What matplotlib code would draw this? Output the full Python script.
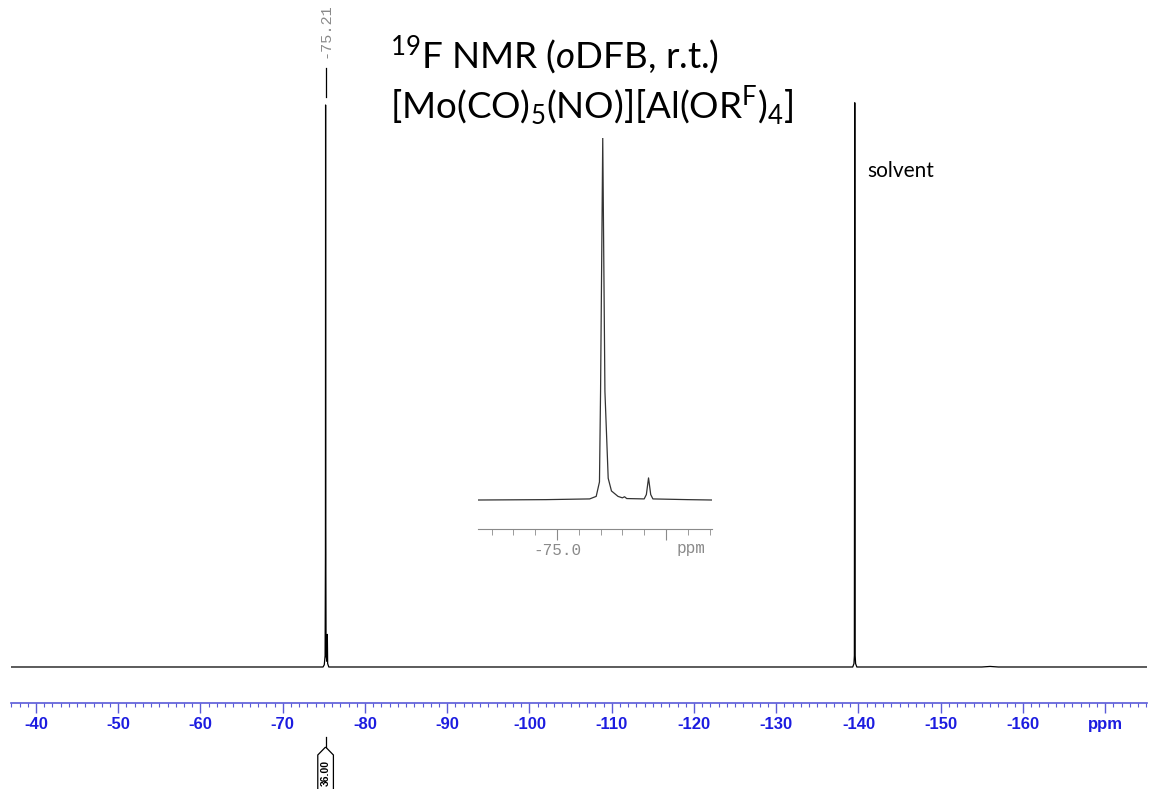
import matplotlib
matplotlib.use('Agg')
import matplotlib.pyplot as plt
from matplotlib.patches import Polygon
from matplotlib.transforms import blended_transform_factory
from matplotlib.ticker import FixedLocator, MultipleLocator

plt.rcParams['mathtext.fontset'] = 'custom'
plt.rcParams['mathtext.rm'] = 'Lato'
plt.rcParams['mathtext.it'] = 'Lato:italic'

# full spectrum outline (ppm, relative intensity)
spec_ppm = [-36.96, -74.9, -75.05, -75.15, -75.19, -75.21, -75.23, -75.27,
            -75.38, -75.42, -75.46, -75.6, -139.3, -139.45, -139.5, -139.55,
            -139.6, -139.65, -139.8, -155.0, -156.0, -157.0, -175.08]
spec_int = [0.0, 0.0, 0.004, 0.02, 0.2, 1.0, 0.25, 0.02,
            0.01, 0.058, 0.006, 0.0, 0.0, 0.006, 0.02, 1.004,
            0.02, 0.006, 0.0, 0.0, 0.001, 0.0, 0.0]

# zoomed inset around -75 ppm
ins_ppm = [-74.64, -74.95, -75.15, -75.18, -75.195, -75.20, -75.21, -75.22,
           -75.235, -75.25, -75.28, -75.3, -75.31, -75.32, -75.4, -75.41,
           -75.42, -75.43, -75.44, -75.6, -75.71]
ins_int = [0.0, 0.001, 0.003, 0.01, 0.05, 0.3, 1.0, 0.3,
           0.06, 0.025, 0.01, 0.006, 0.009, 0.004, 0.003, 0.015,
           0.061, 0.015, 0.003, 0.001, 0.0]

main_ticks = [-40, -50, -60, -70, -80, -90, -100, -110, -120, -130, -140,
              -150, -160, -170]
main_labels = ['-40', '-50', '-60', '-70', '-80', '-90', '-100', '-110',
               '-120', '-130', '-140', '-150', '-160', 'ppm']
peak_pos = -75.21
peak_label = '-75.21'
integral = '36.00'

blue = '#1c1ce0'
grey = '#8a8a8a'

fig = plt.figure(figsize=(11.51, 7.89), dpi=100)
ax = fig.add_axes([11/1151, 1-703/789, 1136/1151, 703/789])
ax.plot(spec_ppm, spec_int, color='k', lw=0.9)
ax.set_xlim(-36.96, -175.08)
ax.set_ylim(-0.06406, 1.1868)
for s in ['top', 'left', 'right']:
    ax.spines[s].set_visible(False)
ax.spines['bottom'].set_color('#5a5ad8')
ax.spines['bottom'].set_linewidth(1.2)
ax.set_yticks([])
ax.xaxis.set_major_locator(FixedLocator(main_ticks))
ax.set_xticklabels(main_labels)
ax.xaxis.set_minor_locator(MultipleLocator(1))
ax.tick_params(axis='x', which='major', length=7, width=1, color='#5a5ad8',
               labelcolor=blue, pad=3)
ax.tick_params(axis='x', which='minor', length=3, width=0.8, color='#5a5ad8')
for lab in ax.get_xticklabels():
    lab.set_fontfamily('Liberation Sans')
    lab.set_fontweight('bold')
    lab.set_fontsize(12)

# peak pick label
tr = blended_transform_factory(ax.transData, fig.transFigure)
ax.text(peak_pos, 1-31/789, peak_label, rotation=90, ha='center', va='center',
        family='Liberation Mono', fontsize=11, color=grey, transform=tr)
ax.plot([peak_pos, peak_pos], [1-68/789, 1-97/789], color='k', lw=0.9,
        transform=tr, clip_on=False)

# integral marker
ax.plot([peak_pos, peak_pos], [1-737/789, 1-747/789], color='k', lw=0.9,
        transform=tr, clip_on=False)
hw = 0.95
pent = Polygon([[peak_pos, 1-747/789], [peak_pos+hw, 1-755/789],
                [peak_pos+hw, 1-795/789], [peak_pos-hw, 1-795/789],
                [peak_pos-hw, 1-755/789]], closed=True, fill=False,
               edgecolor='k', lw=0.9, transform=tr, clip_on=False)
ax.add_artist(pent)
ax.text(peak_pos, 1-773/789, integral, rotation=90, ha='center', va='center',
        family='Liberation Sans', fontweight='bold', fontsize=7.5, color='k',
        transform=tr)

# title
fig.text(390/1151, 1-68/789, r'$^{19}$F NMR ($o$DFB, r.t.)', family='Lato',
         fontsize=26.5, va='baseline', ha='left')
fig.text(390/1151, 1-118/789, r'[Mo(CO)$_5$(NO)][Al(OR$^\mathrm{F}$)$_4$]',
         family='Lato', fontsize=26.5, va='baseline', ha='left')
fig.text(867/1151, 1-177/789, 'solvent', family='Lato', fontsize=15,
         va='baseline', ha='left')

# inset
axi = fig.add_axes([478/1151, 1-529/789, 234/1151, 391/789])
axi.patch.set_alpha(0)
axi.plot(ins_ppm, ins_int, color='#333333', lw=0.9)
axi.set_xlim(-74.638, -75.711)
axi.set_ylim(-0.0801, 1.0)
for s in ['top', 'left', 'right']:
    axi.spines[s].set_visible(False)
axi.spines['bottom'].set_color(grey)
axi.set_yticks([])
axi.xaxis.set_major_locator(FixedLocator([-75.0, -75.5]))
axi.set_xticklabels(['-75.0', ''])
axi.xaxis.set_minor_locator(MultipleLocator(0.1))
axi.tick_params(axis='x', which='major', length=8, color=grey, labelcolor=grey,
                labelsize=11.5, pad=2)
axi.tick_params(axis='x', which='minor', length=4, color=grey)
for lab in axi.get_xticklabels():
    lab.set_fontfamily('Liberation Mono')
axi.text(-75.615, 1-548/789, 'ppm', ha='center', va='center',
         family='Liberation Mono', fontsize=11.5, color=grey,
         transform=blended_transform_factory(axi.transData, fig.transFigure))

fig.savefig('out.png', dpi=100)
